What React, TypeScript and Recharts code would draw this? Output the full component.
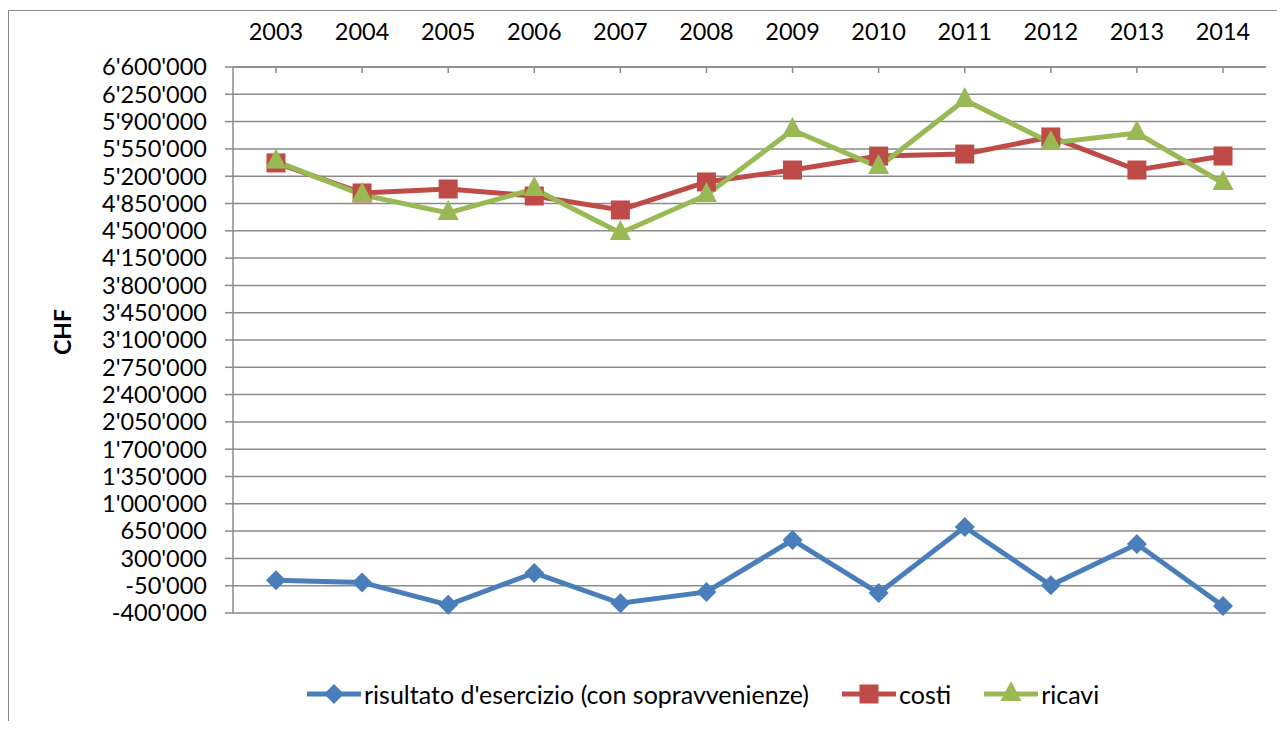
import React from 'react';
import { LineChart, Line, XAxis, YAxis, CartesianGrid, Legend, Label } from 'recharts';

const years = ['2003', '2004', '2005', '2006', '2007', '2008', '2009', '2010', '2011', '2012', '2013', '2014'];
const risultato = [20000, -8000, -295000, 113000, -275000, -130000, 536000, -145000, 702000, -45000, 484000, -310000];
const costi = [5370000, 4985000, 5036000, 4946000, 4767000, 5126000, 5279000, 5458000, 5484000, 5703000, 5279000, 5459000];
const ricavi = [5390000, 4960000, 4728000, 5036000, 4472000, 4960000, 5792000, 5317000, 6177000, 5626000, 5754000, 5113000];
const yTicks = [
  -400000, -50000, 300000, 650000, 1000000, 1350000, 1700000, 2050000, 2400000, 2750000, 3100000,
  3450000, 3800000, 4150000, 4500000, 4850000, 5200000, 5550000, 5900000, 6250000, 6600000,
];
const seriesOrder = ['risultato', 'costi', 'ricavi'];

const data = years.map((year, i) => ({
  year,
  risultato: risultato[i],
  costi: costi[i],
  ricavi: ricavi[i],
}));

const BLUE = '#4A7EBB';
const RED = '#BE4B48';
const GREEN = '#98B954';
const GRID = '#8a8a8a';
const FONT = 'Lato, sans-serif';

const fmt = (v: number) => {
  const s = Math.abs(v).toString().replace(/\B(?=(\d{3})+(?!\d))/g, "'");
  return v < 0 ? '-' + s : s;
};

const Marker = ({ kind, cx, cy, color }: { kind: string; cx: number; cy: number; color: string }) => {
  if (kind === 'diamond') {
    const r = 10;
    return <polygon points={`${cx},${cy - r} ${cx + r},${cy} ${cx},${cy + r} ${cx - r},${cy}`} fill={color} />;
  }
  if (kind === 'square') {
    const h = 9.5;
    return <rect x={cx - h} y={cy - h} width={h * 2} height={h * 2} fill={color} />;
  }
  return <polygon points={`${cx},${cy - 13} ${cx + 10.5},${cy + 7} ${cx - 10.5},${cy + 7}`} fill={color} />;
};

const dotFor = (kind: string, color: string) => (p: any) => (
  <Marker key={`${kind}-${p.index}`} kind={kind} cx={p.cx} cy={p.cy} color={color} />
);

const kinds: Record<string, string> = { risultato: 'diamond', costi: 'square', ricavi: 'triangle' };

const LegendContent = ({ payload }: any) => {
  const items = [...(payload || [])].sort(
    (a: any, b: any) => seriesOrder.indexOf(a.dataKey) - seriesOrder.indexOf(b.dataKey)
  );
  return (
    <div style={{ display: 'flex', alignItems: 'center', fontFamily: FONT, fontSize: 25, color: '#000' }}>
      {items.map((item: any, i: number) => (
        <div key={i} style={{ display: 'flex', alignItems: 'center', marginRight: 33 }}>
          <svg width={54} height={24} style={{ marginRight: 3 }}>
            <line x1={0} y1={12} x2={54} y2={12} stroke={item.color} strokeWidth={5} />
            <Marker kind={kinds[item.dataKey]} cx={27} cy={12} color={item.color} />
          </svg>
          <span>{item.value}</span>
        </div>
      ))}
    </div>
  );
};

export default function App() {
  return (
    <div
      style={{
        marginTop: 2,
        borderTop: `1px solid ${GRID}`,
        borderLeft: `1px solid ${GRID}`,
        width: 1276,
        height: 710,
        position: 'relative',
      }}
    >
      <LineChart width={1276} height={710} data={data} margin={{ top: 0, right: 19, left: 0, bottom: 108 }}>
        <CartesianGrid vertical={false} stroke={GRID} strokeWidth={1.5} />
        <XAxis
          dataKey="year"
          orientation="top"
          height={56}
          padding={{ left: 43, right: 43 }}
          tickSize={-6}
          tickMargin={33}
          axisLine={{ stroke: GRID, strokeWidth: 1.5 }}
          tickLine={{ stroke: GRID, strokeWidth: 1.5 }}
          tick={{ fill: '#000', fontSize: 23.5, fontFamily: FONT }}
          interval={0}
        />
        <YAxis
          width={224}
          domain={[-400000, 6600000]}
          ticks={yTicks}
          interval={0}
          tickFormatter={fmt}
          tickSize={8}
          tickMargin={18}
          axisLine={{ stroke: GRID, strokeWidth: 1.5 }}
          tickLine={{ stroke: GRID, strokeWidth: 1.5 }}
          tick={{ fill: '#000', fontSize: 23.5, fontFamily: FONT }}
        >
          <Label
            content={({ viewBox }: any) => (
              <text
                x={viewBox.x + 53}
                y={viewBox.y + viewBox.height / 2 - 8}
                transform={`rotate(-90 ${viewBox.x + 53} ${viewBox.y + viewBox.height / 2 - 8})`}
                textAnchor="middle"
                dominantBaseline="central"
                fontFamily={FONT}
                fontSize={23}
                fontWeight="bold"
                fill="#000"
              >
                CHF
              </text>
            )}
          />
        </YAxis>
        <Legend
          verticalAlign="middle"
          layout="horizontal"
          content={<LegendContent />}
          wrapperStyle={{ top: 668, left: 298, width: 'auto' }}
        />
        <Line
          dataKey="risultato"
          name="risultato d'esercizio (con sopravvenienze)"
          stroke={BLUE}
          strokeWidth={5}
          dot={dotFor('diamond', BLUE)}
          activeDot={false}
          isAnimationActive={false}
        />
        <Line
          dataKey="costi"
          name="costi"
          stroke={RED}
          strokeWidth={5}
          dot={dotFor('square', RED)}
          activeDot={false}
          isAnimationActive={false}
        />
        <Line
          dataKey="ricavi"
          name="ricavi"
          stroke={GREEN}
          strokeWidth={5}
          dot={dotFor('triangle', GREEN)}
          activeDot={false}
          isAnimationActive={false}
        />
      </LineChart>
    </div>
  );
}
